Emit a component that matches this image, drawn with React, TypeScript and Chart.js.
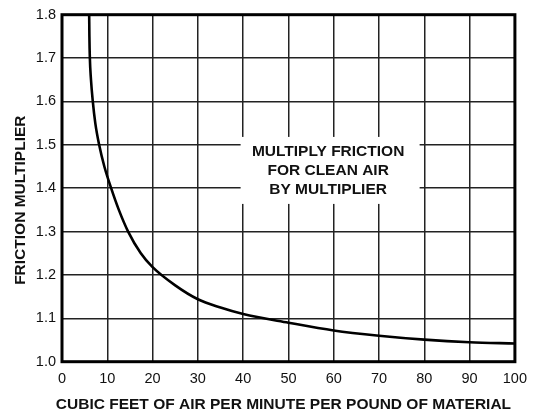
import { useEffect, useRef } from 'react';
import { Chart, registerables } from 'chart.js';

Chart.register(...registerables);

// Cubic feet of air per minute per pound of material
const airflow = [6.0, 6.05, 6.15, 6.4, 6.8, 7.35, 8.2, 9.35, 10.85, 12.55, 14.6, 17.4, 20, 25, 30, 35, 40, 50, 60, 70, 80, 90, 100];
// Friction multiplier
const multiplier = [1.8, 1.75, 1.7, 1.65, 1.6, 1.55, 1.5, 1.45, 1.4, 1.35, 1.3, 1.25, 1.218, 1.176, 1.144, 1.125, 1.11, 1.09, 1.072, 1.06, 1.051, 1.045, 1.042];

const xMin = 0;
const xMax = 100;
const xStep = 10;
const yMin = 1.0;
const yMax = 1.8;
const yStep = 0.1;

const xTitle = 'CUBIC FEET OF AIR PER MINUTE PER POUND OF MATERIAL';
const yTitle = 'FRICTION MULTIPLIER';
const noteLines = ['MULTIPLY FRICTION', 'FOR CLEAN AIR', 'BY MULTIPLIER'];
const noteCenter = { x: 59.2, y: 1.441 };

const FONT = '"Liberation Sans", Arial, Helvetica, sans-serif';

export default function App() {
  const ref = useRef<HTMLCanvasElement | null>(null);

  useEffect(() => {
    document.body.style.margin = '0';
    const canvas = ref.current;
    if (!canvas) return;

    const decor = {
      id: 'decor',
      beforeDatasetsDraw(chart: any) {
        const { ctx, scales } = chart;
        const cx = scales.x.getPixelForValue(noteCenter.x);
        const cy = scales.y.getPixelForValue(noteCenter.y);
        ctx.save();
        ctx.fillStyle = '#ffffff';
        ctx.fillRect(cx - 89.5, cy - 33.5, 179, 67);
        ctx.fillStyle = '#111';
        ctx.font = `bold 15.5px ${FONT}`;
        ctx.textAlign = 'center';
        ctx.textBaseline = 'middle';
        noteLines.forEach((line, i) => {
          ctx.fillText(line, cx - 2, cy - 18.5 + i * 18.8);
        });
        ctx.restore();
      },
      afterDraw(chart: any) {
        const { ctx, chartArea: a } = chart;
        ctx.save();
        ctx.strokeStyle = '#000';
        ctx.lineWidth = 3;
        ctx.strokeRect(a.left, a.top, a.right - a.left, a.bottom - a.top);
        ctx.fillStyle = '#111';
        ctx.font = `bold 15.5px ${FONT}`;
        ctx.textAlign = 'center';
        ctx.textBaseline = 'middle';
        ctx.fillText(xTitle, (a.left + a.right) / 2 - 5, 405);
        ctx.translate(20.7, (a.top + a.bottom) / 2 + 12);
        ctx.rotate(-Math.PI / 2);
        ctx.fillText(yTitle, 0, 0);
        ctx.restore();
      },
    };

    const chart = new Chart(canvas, {
      type: 'line',
      data: {
        datasets: [
          {
            data: airflow.map((x, i) => ({ x, y: multiplier[i] })),
            borderColor: '#000',
            borderWidth: 2.6,
            pointRadius: 0,
            fill: false,
            cubicInterpolationMode: 'monotone',
          },
        ],
      },
      options: {
        animation: false,
        responsive: false,
        maintainAspectRatio: false,
        layout: { padding: { left: 0, top: 11, right: 20.5, bottom: 0 } },
        plugins: { legend: { display: false }, tooltip: { enabled: false } },
        scales: {
          x: {
            type: 'linear',
            min: xMin,
            max: xMax,
            afterFit: (s: any) => {
              s.height = 55.3;
            },
            ticks: {
              stepSize: xStep,
              padding: 9,
              color: '#111',
              font: { family: FONT, size: 14.5 },
              maxRotation: 0,
              callback: (v: any) => String(Math.round(Number(v))),
            },
            grid: { color: '#222', lineWidth: 1.5, drawTicks: false },
            border: { display: false },
          },
          y: {
            type: 'linear',
            min: yMin,
            max: yMax,
            afterFit: (s: any) => {
              s.width = 62;
            },
            ticks: {
              stepSize: yStep,
              padding: 6,
              color: '#111',
              font: { family: FONT, size: 14.5 },
              callback: (v: any) => Number(v).toFixed(1),
            },
            grid: { color: '#222', lineWidth: 1.5, drawTicks: false },
            border: { display: false },
          },
        },
      },
      plugins: [decor],
    } as any);

    return () => chart.destroy();
  }, []);

  return (
    <div style={{ width: 536, height: 417 }}>
      <canvas ref={ref} width={536} height={417} style={{ display: 'block' }} />
    </div>
  );
}
